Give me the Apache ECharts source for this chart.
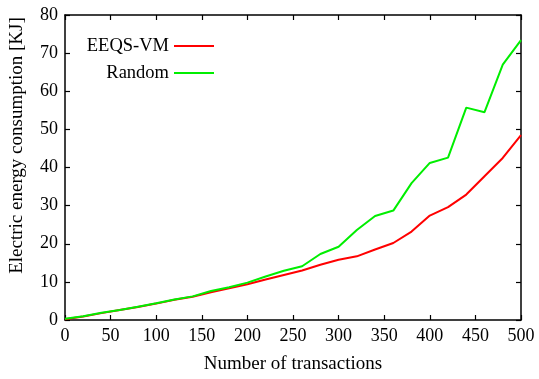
<!DOCTYPE html>
<html>
<head>
<meta charset="utf-8">
<script src="https://cdn.jsdelivr.net/npm/echarts@6/dist/echarts.min.js"></script>
<style>html,body{margin:0;padding:0;background:#fff}#c{width:539px;height:379px}</style>
</head>
<body>
<div id="c"></div>
<script>
var transactions = [0,20,40,60,80,100,120,140,160,180,200,220,240,260,280,300,320,340,360,380,400,420,440,460,480,500];
var eeqsVM = [0.2,0.9,1.8,2.6,3.4,4.3,5.3,6.1,7.3,8.3,9.4,10.6,11.8,13.0,14.5,15.8,16.7,18.5,20.2,23.2,27.4,29.6,32.9,37.7,42.5,48.5];
var randomVM = [0.3,1.0,1.9,2.6,3.5,4.4,5.4,6.2,7.6,8.6,9.8,11.4,12.9,14.1,17.3,19.2,23.6,27.3,28.7,35.9,41.2,42.6,55.7,54.5,67.0,73.4];
var seriesNames = ['EEQS-VM','Random'];
var xTitle = 'Number of transactions';
var yTitle = 'Electric energy consumption [KJ]';

var font = 'Liberation Serif';
function pairs(ys){ return transactions.map(function(x,i){ return [x, ys[i]]; }); }
var axisLine = {show:true, onZero:false, lineStyle:{color:'#000', width:1.5}};
var tick = {show:true, inside:true, length:5, lineStyle:{color:'#000', width:1.2}};
function legendFor(name, top){
  return {data:[name], right:325, top:top, orient:'vertical', align:'right', padding:0,
     icon:'rect', itemWidth:40, itemHeight:2, itemGap:0,
     textStyle:{fontFamily:font, fontSize:18.5, color:'#000', lineHeight:20}};
}
var chart = echarts.init(document.getElementById('c'), null, {renderer:'canvas'});
chart.setOption({
  animation:false,
  backgroundColor:'#fff',
  grid:{left:65, right:18, top:15, bottom:51, containLabel:false},
  legend:[legendFor(seriesNames[0], 36), legendFor(seriesNames[1], 63)],
  xAxis:[
    {type:'value', min:0, max:500, interval:50, position:'bottom',
     name:xTitle, nameLocation:'middle', nameGap:35,
     nameTextStyle:{fontFamily:font, fontSize:19, color:'#000'},
     axisLine:axisLine, axisTick:tick,
     axisLabel:{fontFamily:font, fontSize:18, color:'#000', margin:7},
     splitLine:{show:false}},
    {type:'value', min:0, max:500, interval:50, position:'top',
     axisLine:axisLine, axisTick:tick,
     axisLabel:{show:false}, splitLine:{show:false}}
  ],
  yAxis:[
    {type:'value', min:0, max:80, interval:10, position:'left',
     name:yTitle, nameLocation:'middle', nameGap:38, nameRotate:90,
     nameTextStyle:{fontFamily:font, fontSize:19, color:'#000', padding:[0,0,0,44]},
     axisLine:axisLine, axisTick:tick,
     axisLabel:{fontFamily:font, fontSize:18, color:'#000', margin:7},
     splitLine:{show:false}},
    {type:'value', min:0, max:80, interval:10, position:'right',
     axisLine:axisLine, axisTick:tick,
     axisLabel:{show:false}, splitLine:{show:false}}
  ],
  series:[
    {name:seriesNames[0], type:'line', data:pairs(eeqsVM), showSymbol:false, symbol:'none',
     itemStyle:{color:'#ff0000'}, lineStyle:{color:'#ff0000', width:2}, z:2},
    {name:seriesNames[1], type:'line', data:pairs(randomVM), showSymbol:false, symbol:'none',
     itemStyle:{color:'#00ee00'}, lineStyle:{color:'#00ee00', width:2}, z:3}
  ]
});
</script>
</body>
</html>
